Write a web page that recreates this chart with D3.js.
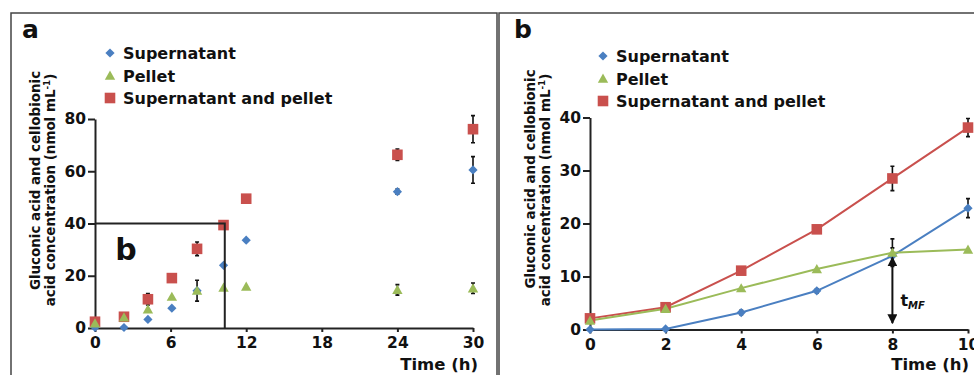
<!DOCTYPE html>
<html><head><meta charset="utf-8">
<script src="https://cdn.jsdelivr.net/npm/d3@7"></script>
<style>body{margin:0;background:#fff} svg{display:block;font-family:"DejaVu Sans",Verdana,sans-serif;font-weight:bold}</style>
</head><body><svg id="c" width="974" height="375"></svg>
<script>
// ---- data: panel a ----
const timeA = [0, 2.3, 4.2, 6.1, 8.1, 10.2, 12, 24, 30];
const supA = [0.2, 0.2, 3.3, 7.6, 14.3, 24, 33.6, 52.2, 60.5];
const supErrA = [0, 0, 0, 0, 0.5, 0, 0, 1, 5.1];
const pelA = [1.8, 4.1, 7.2, 12, 14.3, 15.5, 15.9, 14.6, 15.2];
const pelErrA = [0, 0, 0, 0, 4, 0, 0, 2, 2];
const bothA = [2.4, 4.3, 11, 19.1, 30.3, 39.4, 49.5, 66.3, 76.1];
const bothErrA = [0, 0, 2.2, 0, 2.6, 0, 0, 2.2, 5.2];
const xTicksA = [0, 6, 12, 18, 24, 30];
const yTicksA = [0, 20, 40, 60, 80];
const insetX = 10.3, insetY = 40;
// ---- data: panel b ----
const timeB = [0, 2, 4, 6, 8, 10];
const supB = [0, 0.1, 3.2, 7.3, 13.9, 22.9];
const supErrB = [0, 0, 0.4, 0.4, 1.5, 1.8];
const pelB = [1.7, 3.9, 7.8, 11.4, 14.5, 15.1];
const pelErrB = [0, 0, 0, 0, 2.6, 0];
const bothB = [2.1, 4.2, 11.1, 18.9, 28.5, 38.1];
const bothErrB = [0, 0, 0.5, 0, 2.3, 1.7];
const xTicksB = [0, 2, 4, 6, 8, 10];
const yTicksB = [0, 10, 20, 30, 40];
const tMF = 8;
const seriesNames = ["Supernatant", "Pellet", "Supernatant and pellet"];
const colors = {sup: "#4a7fc1", pel: "#9bbb59", both: "#c9504d"};

const svg = d3.select("#c");

function shape(kind, cx, cy) {
  if (kind === "sup") { const r = 4.6; return `M${cx},${cy-r}L${cx+r},${cy}L${cx},${cy+r}L${cx-r},${cy}Z`; }
  if (kind === "pel") { return `M${cx},${cy-5}L${cx+5.2},${cy+4.2}L${cx-5.2},${cy+4.2}Z`; }
  const h = 5.3; return `M${cx-h},${cy-h}h${2*h}v${2*h}h${-2*h}Z`;
}

// frames
svg.append("rect").attr("x", 11).attr("y", 13).attr("width", 486).attr("height", 380)
  .attr("fill", "none").attr("stroke", "#444").attr("stroke-width", 1.5);
svg.append("rect").attr("x", 499).attr("y", 13).attr("width", 490).attr("height", 380)
  .attr("fill", "none").attr("stroke", "#444").attr("stroke-width", 1.5);

function yLabel(g, x1, x2, yc1, yc2, len1, len2) {
  const t1 = g.append("text").attr("transform", `translate(${x1},${yc1}) rotate(-90)`)
    .attr("text-anchor", "middle").attr("font-size", 13).attr("fill", "#111")
    .text("Gluconic acid and cellobionic");
  const t2 = g.append("text").attr("transform", `translate(${x2},${yc2}) rotate(-90)`)
    .attr("text-anchor", "middle").attr("font-size", 13).attr("fill", "#111");
  t2.append("tspan").text("acid concentration (nmol mL");
  t2.append("tspan").attr("font-size", "0.65em").attr("dy", -5).text("-1");
  t2.append("tspan").attr("dy", 5).text(")");
  const l = t1.node().getComputedTextLength() + t2.node().getComputedTextLength();
  const f = 13 * (len1 + len2) / l;
  t1.attr("font-size", f); t2.attr("font-size", f);
}

function panel(opt) {
  const g = svg.append("g");
  const x = d3.scaleLinear().domain(opt.xDom).range(opt.xRange);
  const y = d3.scaleLinear().domain(opt.yDom).range(opt.yRange);
  // axes
  const ay = g.append("g").attr("transform", `translate(${opt.xRange[0]},0)`)
    .call(d3.axisLeft(y).tickValues(opt.yTicks).tickSize(7).tickSizeOuter(0).tickPadding(2));
  const ax = g.append("g").attr("transform", `translate(0,${opt.yRange[0]})`)
    .call(d3.axisBottom(x).tickValues(opt.xTicks).tickSize(4).tickSizeOuter(0).tickPadding(5));
  [ay, ax].forEach(a => {
    a.selectAll("path,line").attr("stroke", "#222").attr("stroke-width", 2);
    a.selectAll("text").attr("font-size", 15.5).attr("font-weight", "bold").attr("fill", "#111")
      .attr("font-family", '"DejaVu Sans",sans-serif');
  });
  const series = [
    {k: "both", v: opt.both, e: opt.bothErr},
    {k: "sup", v: opt.sup, e: opt.supErr},
    {k: "pel", v: opt.pel, e: opt.pelErr}
  ];
  if (opt.lines) {
    series.forEach(s => {
      g.append("path").datum(opt.time.map((t, i) => [t, s.v[i]]))
        .attr("fill", "none").attr("stroke", colors[s.k]).attr("stroke-width", 2)
        .attr("d", d3.line().x(d => x(d[0])).y(d => y(d[1])));
    });
  }
  series.forEach(s => {
    opt.time.forEach((t, i) => {
      const e = s.e[i]; if (!e) return;
      const cx = x(t), y1 = y(s.v[i] + e), y2 = y(s.v[i] - e);
      g.append("path").attr("d", `M${cx},${y1}V${y2}M${cx-2},${y1}h4M${cx-2},${y2}h4`)
        .attr("stroke", "#111").attr("stroke-width", 1.6).attr("fill", "none");
    });
  });
  series.forEach(s => {
    g.selectAll(null).data(opt.time.map((t, i) => [t, s.v[i]])).enter().append("path")
      .attr("d", d => shape(s.k, x(d[0]), y(d[1]))).attr("fill", colors[s.k]);
  });
  // Time label
  g.append("text").attr("x", opt.timeX).attr("y", 370).attr("text-anchor", "end")
    .attr("font-size", 16.5).attr("fill", "#111").text("Time (h)");
  // legend
  const lk = ["sup", "pel", "both"];
  lk.forEach((k, i) => {
    const cy = opt.legY + i * 22.5;
    g.append("path").attr("d", shape(k, opt.legX, cy)).attr("fill", colors[k]);
    g.append("text").attr("x", opt.legX + 13).attr("y", cy + 6).attr("font-size", 16)
      .attr("fill", "#111").text(seriesNames[i]);
  });
  // panel letter
  g.append("text").attr("x", opt.letterX).attr("y", 38).attr("font-size", 25)
    .attr("fill", "#111").text(opt.letter);
  yLabel(g, opt.xRange[0] - 55, opt.xRange[0] - 40, opt.yc1, opt.yc2, 206, 246);
  return {g, x, y};
}

const A = panel({
  xDom: [0, 30], xRange: [95, 473], yDom: [0, 80], yRange: [328, 119],
  xTicks: xTicksA, yTicks: yTicksA, time: timeA,
  sup: supA, supErr: supErrA, pel: pelA, pelErr: pelErrA, both: bothA, bothErr: bothErrA,
  lines: false, timeX: 478, legX: 110, legY: 53, letter: "a", letterX: 22, yc1: 180.5, yc2: 190
});
// inset box marking panel b region
A.g.append("path")
  .attr("d", `M${A.x(0)},${A.y(insetY)}H${A.x(insetX)}V${A.y(0)}`)
  .attr("fill", "none").attr("stroke", "#222").attr("stroke-width", 2);
A.g.append("text").attr("x", A.x(1.6)).attr("y", 260).attr("font-size", 30).attr("fill", "#111").text("b");

const B = panel({
  xDom: [0, 10], xRange: [590, 968], yDom: [0, 40], yRange: [329.5, 117.5],
  xTicks: xTicksB, yTicks: yTicksB, time: timeB,
  sup: supB, supErr: supErrB, pel: pelB, pelErr: pelErrB, both: bothB, bothErr: bothErrB,
  lines: true, timeX: 969, legX: 603, legY: 56, letter: "b", letterX: 514, yc1: 179, yc2: 190
});
// t_MF arrow
const ax0 = B.x(tMF);
const defs = svg.append("defs");
defs.append("marker").attr("id", "ah").attr("viewBox", "0 0 10 10").attr("refX", 9).attr("refY", 5)
  .attr("markerWidth", 5).attr("markerHeight", 5).attr("orient", "auto-start-reverse")
  .append("path").attr("d", "M0,0L10,5L0,10Z").attr("fill", "#111");
B.g.append("line").attr("x1", ax0).attr("x2", ax0).attr("y1", B.y(13.6)).attr("y2", B.y(1.2))
  .attr("stroke", "#111").attr("stroke-width", 2)
  .attr("marker-start", "url(#ah)").attr("marker-end", "url(#ah)");
const tl = B.g.append("text").attr("x", ax0 + 8).attr("y", 306).attr("font-size", 16).attr("fill", "#111");
tl.append("tspan").text("t");
tl.append("tspan").attr("font-size", 10).attr("font-style", "italic").attr("dy", 3).text("MF");
</script></body></html>
